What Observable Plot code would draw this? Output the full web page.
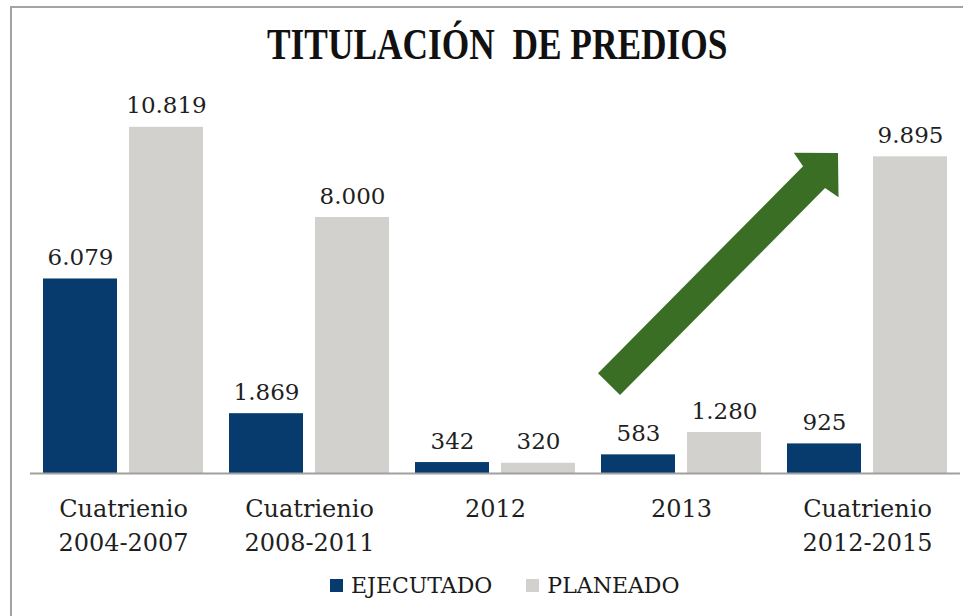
<!DOCTYPE html>
<html>
<head>
<meta charset="utf-8">
<script src="https://cdn.jsdelivr.net/npm/d3@7"></script>
<script src="https://cdn.jsdelivr.net/npm/@observablehq/plot@0.6"></script>
<style>
  html, body { margin: 0; padding: 0; background: #fff; }
  #page { position: relative; width: 963px; height: 616px; overflow: hidden; background: #fff; }
  #frame { position: absolute; left: 10px; top: 6px; width: 960px; height: 620px;
           border-left: 2px solid #a3a3a3; border-top: 2px solid #a3a3a3; }
  #title { position: absolute; left: 0; top: 18px; width: 994px; text-align: center;
           font-family: "Liberation Serif", serif; font-weight: bold; font-size: 45px;
           color: #111; white-space: pre; }
  #title span { display: inline-block; transform: scaleX(0.785); transform-origin: center; }
  #chart { position: absolute; left: 0; top: 85px; }
  #legend { position: absolute; left: 330px; top: 573px; display: flex; align-items: center;
            font-family: "DejaVu Serif", serif; font-size: 22px; color: #1a1a1a; }
  .sw { display: inline-block; width: 13px; height: 13px; margin-right: 8px; }
</style>
</head>
<body>
<div id="page">
  <div id="frame"></div>
  <div id="title"><span>TITULACIÓN  DE PREDIOS</span></div>
  <div id="chart"></div>
  <div id="legend"></div>
</div>
<script>
// ---- data ----
const CATEGORIES = ["Cuatrienio 2004-2007", "Cuatrienio 2008-2011", "2012", "2013", "Cuatrienio 2012-2015"];
const CATEGORY_LABELS = ["Cuatrienio\n2004-2007", "Cuatrienio\n2008-2011", "2012", "2013", "Cuatrienio\n2012-2015"];
const SERIES = ["EJECUTADO", "PLANEADO"];
const EJECUTADO = [6079, 1869, 342, 583, 925];
const PLANEADO = [10819, 8000, 320, 1280, 9895];
const COLORS = ["#073b6e", "#d2d1cd"];
// trend arrow annotation (category, value) for tail and tip
const ARROW_FROM = {category: "2013", value: 2780};
const ARROW_TO = {category: "Cuatrienio 2012-2015", value: 10000};

const rows = [];
CATEGORIES.forEach((c, i) => {
  rows.push({cat: c, series: SERIES[0], value: EJECUTADO[i]});
  rows.push({cat: c, series: SERIES[1], value: PLANEADO[i]});
});

const fmt = d3.formatLocale({decimal: ",", thousands: ".", grouping: [3], currency: ["", ""]}).format(",");

const W = 963, H = 460;
const plot = Plot.plot({
  width: W,
  height: H,
  marginLeft: 30,
  marginRight: 3,
  marginTop: 36,
  marginBottom: 72,
  style: {fontFamily: "'DejaVu Serif', serif", fontSize: "23px", color: "#1f1f1f", background: "transparent", overflow: "visible"},
  fx: {domain: CATEGORIES, padding: 0, axis: null},
  x: {domain: SERIES, paddingInner: 0.14, paddingOuter: 0.15, axis: null},
  y: {domain: [0, 11000], axis: null},
  color: {domain: SERIES, range: COLORS},
  marks: [
    Plot.barY(rows, {fx: "cat", x: "series", y: "value", fill: "series"}),
    Plot.ruleY([0], {stroke: "#a0a0a0", strokeWidth: 2}),
    Plot.text(rows, {fx: "cat", x: "series", y: "value", text: d => fmt(d.value),
                     lineAnchor: "bottom", dy: -14, fill: "#1f1f1f"}),
    Plot.text(CATEGORIES, {fx: d => d, text: (d, i) => CATEGORY_LABELS[i],
                           frameAnchor: "bottom", lineAnchor: "top", dy: 20,
                           lineHeight: 1.39, fill: "#1f1f1f", fontSize: 24})
  ]
});
document.getElementById("chart").appendChild(plot);

// arrow positioned through the plot's scales
(function drawArrow() {
  const fxs = plot.scale("fx");
  const ys = plot.scale("y");
  const band = d3.scaleBand().domain(fxs.domain).range(fxs.range)
    .paddingInner(fxs.paddingInner ?? 0).paddingOuter(fxs.paddingOuter ?? 0).align(fxs.align ?? 0.5);
  const yy = ys.apply ? (v => ys.apply(v)) : d3.scaleLinear().domain(ys.domain).range(ys.range);
  const bw = band.bandwidth();
  const tail = [band(ARROW_FROM.category) + 0.113 * bw, yy(ARROW_FROM.value)];
  const tip = [band(ARROW_TO.category) + 0.344 * bw, yy(ARROW_TO.value)];
  const dx = tip[0] - tail[0], dy = tip[1] - tail[1];
  const L = Math.hypot(dx, dy);
  const u = [dx / L, dy / L], n = [-u[1], u[0]];
  const sw = 15.5, hw = 31.5, hl = 31, notch = 3;
  const P = (t, s) => [tail[0] + u[0] * t + n[0] * s, tail[1] + u[1] * t + n[1] * s];
  const pts = [P(0, -sw), P(L - hl - notch, -sw), P(L - hl, -hw), P(L, 0),
               P(L - hl, hw), P(L - hl - notch, sw), P(0, sw)];
  d3.select(plot).append("path")
    .attr("d", "M" + pts.map(p => p.join(",")).join("L") + "Z")
    .attr("fill", "#3b6e25");
})();

// legend
const legend = document.getElementById("legend");
SERIES.forEach((s, i) => {
  const item = document.createElement("span");
  item.style.display = "inline-flex";
  item.style.alignItems = "center";
  item.style.marginRight = i === 0 ? "34px" : "0";
  item.innerHTML = `<span class="sw" style="background:${COLORS[i]}"></span>${s}`;
  legend.appendChild(item);
});
</script>
</body>
</html>
